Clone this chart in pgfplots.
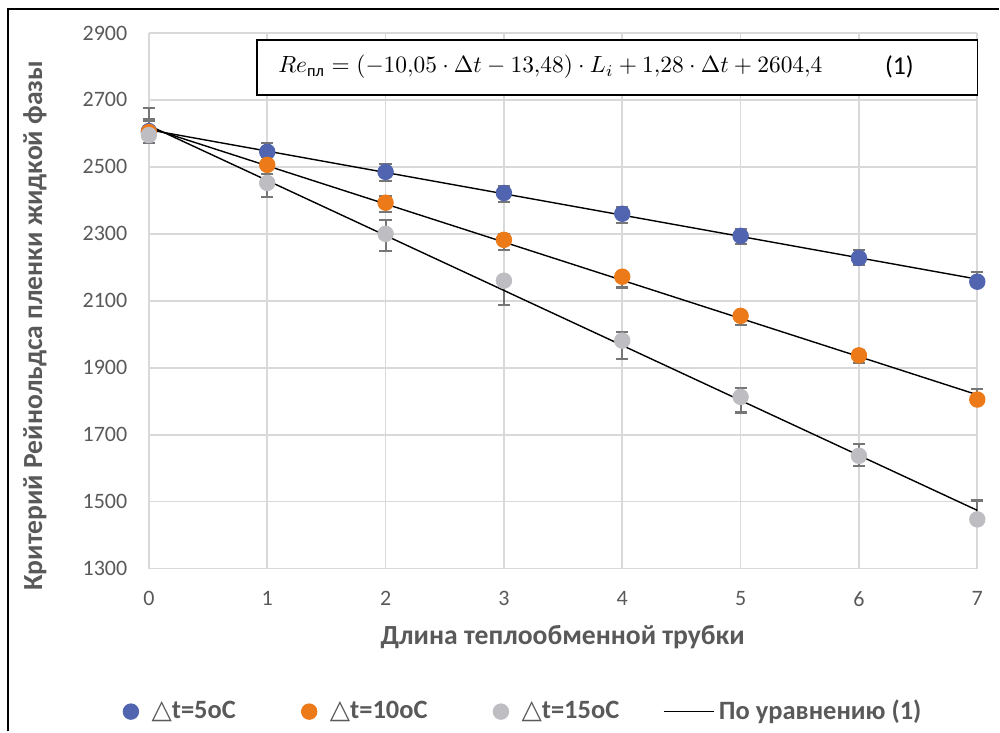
\documentclass[border=0pt]{standalone}
\usepackage{amsmath}
\usepackage{fontspec}
\setmainfont{Carlito}
\newfontfamily\dejavu{DejaVu Sans}
\usepackage{pgfplots}
\pgfplotsset{compat=1.18}
\definecolor{ser1}{RGB}{80,100,176}
\definecolor{ser2}{RGB}{236,122,24}
\definecolor{ser3}{RGB}{190,190,194}
\definecolor{errc}{RGB}{118,118,118}
\definecolor{txtc}{RGB}{89,89,89}
\definecolor{gridc}{RGB}{217,217,217}
\newcommand{\tri}{{\dejavu\mdseries △}}
\pgfplotsset{
  eqline/.style={legend image code/.code={\draw[##1, overlay] (-0.33cm,0cm) -- (0.42cm,0cm); \path (0cm,0cm) -- (0.42cm,0cm);}},
  dotleg/.style={legend image code/.code={\draw[mark repeat=2,mark phase=2,##1] plot coordinates {(0cm,0cm) (0.15cm,0cm) (0.3cm,0cm)};}},
}

\begin{document}
\begin{tikzpicture}
% page frame, 1 px = 0.015 cm
\path (0,0) rectangle (15cm,10.98cm);
\draw[black, line width=0.6pt] (0.12cm,0cm) -- (0.12cm,10.845cm) -- (15cm,10.845cm);

\begin{axis}[
  at={(2.235cm,2.445cm)}, anchor=south west,
  scale only axis, width=12.435cm, height=8.04cm,
  xmin=0, xmax=7, ymin=1300, ymax=2900,
  xtick={0,...,7}, ytick={1300,1500,...,2900},
  grid=major, grid style={gridc, line width=0.7pt},
  axis line style={draw=none}, major tick length=0pt,
  /pgf/number format/assume math mode=true,
  /pgf/number format/1000 sep={},
  tick label style={font=\fontsize{9.4}{11}\selectfont, text=txtc},
  yticklabel style={xshift=-0.2cm},
  xticklabel style={yshift=-0.22cm},
  clip=false,
  legend style={at={(0.4536,-0.267)}, anchor=center, draw=none, fill=none,
    font=\bfseries\fontsize{11.3}{13}\selectfont, text=txtc, legend columns=4,
    /tikz/every even column/.append style={column sep=0.915cm}},
  legend cell align=left,
]
% error bars (1 % for 5 and 10 oC, 2 % for 15 oC)
\addplot[forget plot, draw=none, mark=none, error bars/.cd, y dir=both, y explicit,
  error bar style={draw=errc, line width=0.9pt, solid},
  error mark options={draw=errc, rotate=90, mark size=2.6pt, line width=0.9pt}]
  coordinates {(0,2610.8) +- (0,26.1) (1,2547.1) +- (0,25.5) (2,2483.3) +- (0,24.8) (3,2419.6) +- (0,24.2)
               (4,2355.9) +- (0,23.6) (5,2292.2) +- (0,22.9) (6,2228.4) +- (0,22.3) (7,2164.7) +- (0,21.6)};
\addplot[forget plot, draw=none, mark=none, error bars/.cd, y dir=both, y explicit,
  error bar style={draw=errc, line width=0.9pt, solid},
  error mark options={draw=errc, rotate=90, mark size=2.6pt, line width=0.9pt}]
  coordinates {(0,2617.2) +- (0,26.2) (1,2503.2) +- (0,25.0) (2,2389.2) +- (0,23.9) (3,2275.3) +- (0,22.8)
               (4,2161.3) +- (0,21.6) (5,2047.3) +- (0,20.5) (6,1933.3) +- (0,19.3) (7,1819.3) +- (0,18.2)};
\addplot[forget plot, draw=none, mark=none, error bars/.cd, y dir=both, y explicit,
  error bar style={draw=errc, line width=0.9pt, solid},
  error mark options={draw=errc, rotate=90, mark size=2.6pt, line width=0.9pt}]
  coordinates {(0,2623.6) +- (0,52.5) (1,2459.4) +- (0,49.2) (2,2295.1) +- (0,45.9) (3,2130.9) +- (0,42.6)
               (4,1966.7) +- (0,39.3) (5,1802.4) +- (0,36.0) (6,1638.2) +- (0,32.8) (7,1474.0) +- (0,29.5)};

% measured points
\addplot[only marks, mark=*, mark size=3.3pt, ser1, mark options={draw=none, fill=ser1}, dotleg]
  coordinates {(0,2607) (1,2545) (2,2485) (3,2422) (4,2360) (5,2294) (6,2228) (7,2157)};
\addlegendentry{\hspace{3.5pt}\tri t=5oC}
\addplot[only marks, mark=*, mark size=3.3pt, ser2, mark options={draw=none, fill=ser2}, dotleg]
  coordinates {(0,2604) (1,2506) (2,2393) (3,2282) (4,2172) (5,2055) (6,1937) (7,1805)};
\addlegendentry{\hspace{3.5pt}\tri t=10oC}
\addplot[only marks, mark=*, mark size=3.3pt, ser3, mark options={draw=none, fill=ser3}, dotleg]
  coordinates {(0,2595) (1,2452) (2,2300) (3,2160) (4,1981) (5,1813) (6,1637) (7,1447)};
\addlegendentry{\hspace{3.5pt}\tri t=15oC}

% equation (1)
\addplot[black, line width=0.6pt, mark=none, eqline]
  coordinates {(0,2610.8) (1,2547.1) (2,2483.3) (3,2419.6) (4,2355.9) (5,2292.2) (6,2228.4) (7,2164.7)};
\addlegendentry{По уравнению (1)}
\addplot[forget plot, black, line width=0.6pt, mark=none]
  coordinates {(0,2617.2) (1,2503.2) (2,2389.2) (3,2275.3) (4,2161.3) (5,2047.3) (6,1933.3) (7,1819.3)};
\addplot[forget plot, black, line width=0.6pt, mark=none]
  coordinates {(0,2623.6) (1,2459.4) (2,2295.1) (3,2130.9) (4,1966.7) (5,1802.4) (6,1638.2) (7,1474.0)};
\end{axis}

% axis titles
\node[rotate=90, text=txtc, font=\bfseries\fontsize{11.8}{14}\selectfont]
  at (0.525cm,6.09cm) {Критерий Рейнольдса пленки жидкой фазы};
\node[text=txtc, font=\bfseries\fontsize{11.8}{14}\selectfont]
  at (8.445cm,1.41cm) {Длина теплообменной трубки};

% equation box
\draw[black, line width=0.6pt, fill=white] (3.855cm,9.555cm) rectangle (14.67cm,10.38cm);
\node[anchor=west, font=\fontsize{10}{12}\selectfont, inner sep=0pt] at (4.17cm,9.975cm)
  {$Re_{\text{пл}} = (-10{,}05\cdot\Delta t - 13{,}48)\cdot L_i + 1{,}28\cdot\Delta t + 2604{,}4$};
\node[font=\fontsize{11}{13}\selectfont] at (13.5cm,9.975cm) {(1)};
\end{tikzpicture}
\end{document}
